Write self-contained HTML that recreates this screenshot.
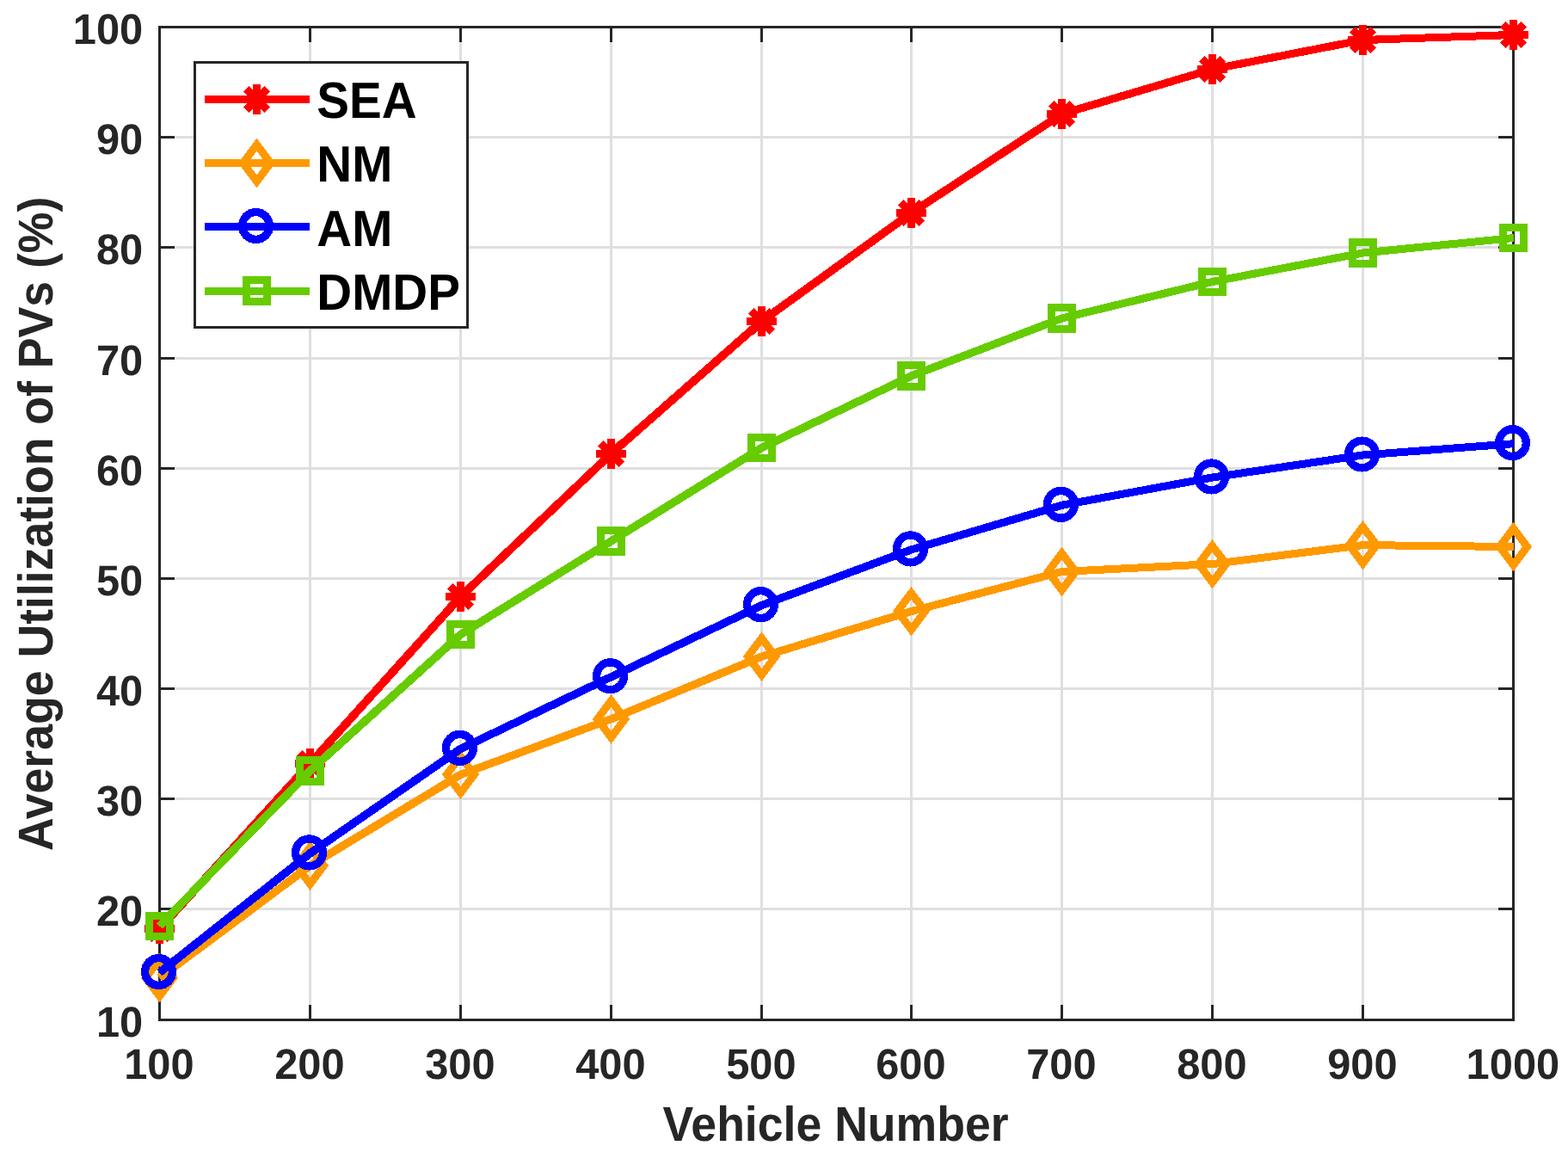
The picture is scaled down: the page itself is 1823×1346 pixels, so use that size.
<!DOCTYPE html>
<html lang="en">
<head>
<meta charset="utf-8">
<title>Average Utilization of PVs vs Vehicle Number</title>
<style>
html,body{margin:0;padding:0;background:#fff;}
body{width:1823px;height:1346px;overflow:hidden;}
svg{display:block;}
text{font-family:"Liberation Sans",sans-serif;font-weight:bold;text-rendering:geometricPrecision;}
.tick{font-size:48.8px;fill:#262626;}
.lab{font-size:53.6px;fill:#262626;}
.leg{font-size:56.6px;fill:#000;}
</style>
</head>
<body>
<svg width="1823" height="1346" viewBox="0 0 1823 1346">
<rect x="0" y="0" width="1823" height="1346" fill="#fff"/>
<path d="M360.5 31.5V1185.5M535.5 31.5V1185.5M710.5 31.5V1185.5M885.5 31.5V1185.5M1059.5 31.5V1185.5M1234.5 31.5V1185.5M1409.5 31.5V1185.5M1584.5 31.5V1185.5M185.5 1056.5H1759.5M185.5 928.5H1759.5M185.5 800.5H1759.5M185.5 672.5H1759.5M185.5 544.5H1759.5M185.5 416.5H1759.5M185.5 287.5H1759.5M185.5 159.5H1759.5" stroke="#dfdfdf" stroke-width="3" fill="none"/>
<path d="M360.5 1185.5v-17.5M360.5 31.5v17.5M535.5 1185.5v-17.5M535.5 31.5v17.5M710.5 1185.5v-17.5M710.5 31.5v17.5M885.5 1185.5v-17.5M885.5 31.5v17.5M1059.5 1185.5v-17.5M1059.5 31.5v17.5M1234.5 1185.5v-17.5M1234.5 31.5v17.5M1409.5 1185.5v-17.5M1409.5 31.5v17.5M1584.5 1185.5v-17.5M1584.5 31.5v17.5M185.5 1056.5h17.5M1759.5 1056.5h-17.5M185.5 928.5h17.5M1759.5 928.5h-17.5M185.5 800.5h17.5M1759.5 800.5h-17.5M185.5 672.5h17.5M1759.5 672.5h-17.5M185.5 544.5h17.5M1759.5 544.5h-17.5M185.5 416.5h17.5M1759.5 416.5h-17.5M185.5 287.5h17.5M1759.5 287.5h-17.5M185.5 159.5h17.5M1759.5 159.5h-17.5" stroke="#262626" stroke-width="3" fill="none"/>
<rect x="185.5" y="31.5" width="1574" height="1154" stroke="#262626" stroke-width="3" fill="none"/>
<text class="tick" transform="translate(184.9 1254) scale(1 1.02)" text-anchor="middle">100</text>
<text class="tick" transform="translate(359.9 1254) scale(1 1.02)" text-anchor="middle">200</text>
<text class="tick" transform="translate(534.9 1254) scale(1 1.02)" text-anchor="middle">300</text>
<text class="tick" transform="translate(709.9 1254) scale(1 1.02)" text-anchor="middle">400</text>
<text class="tick" transform="translate(884.9 1254) scale(1 1.02)" text-anchor="middle">500</text>
<text class="tick" transform="translate(1058.9 1254) scale(1 1.02)" text-anchor="middle">600</text>
<text class="tick" transform="translate(1233.9 1254) scale(1 1.02)" text-anchor="middle">700</text>
<text class="tick" transform="translate(1408.9 1254) scale(1 1.02)" text-anchor="middle">800</text>
<text class="tick" transform="translate(1583.9 1254) scale(1 1.02)" text-anchor="middle">900</text>
<text class="tick" transform="translate(1758.9 1254) scale(1 1.02)" text-anchor="middle">1000</text>
<text class="tick" transform="translate(166.2 1205) scale(1 1.02)" text-anchor="end">10</text>
<text class="tick" transform="translate(166.2 1076) scale(1 1.02)" text-anchor="end">20</text>
<text class="tick" transform="translate(166.2 948) scale(1 1.02)" text-anchor="end">30</text>
<text class="tick" transform="translate(166.2 820) scale(1 1.02)" text-anchor="end">40</text>
<text class="tick" transform="translate(166.2 692) scale(1 1.02)" text-anchor="end">50</text>
<text class="tick" transform="translate(166.2 564) scale(1 1.02)" text-anchor="end">60</text>
<text class="tick" transform="translate(166.2 436) scale(1 1.02)" text-anchor="end">70</text>
<text class="tick" transform="translate(166.2 307) scale(1 1.02)" text-anchor="end">80</text>
<text class="tick" transform="translate(166.2 179) scale(1 1.02)" text-anchor="end">90</text>
<text class="tick" transform="translate(166.2 51) scale(1 1.02)" text-anchor="end">100</text>
<text class="lab" transform="translate(971.6 1326) scale(1 1.06)" text-anchor="middle">Vehicle Number</text>
<text class="lab" transform="translate(61 608.8) rotate(-90) scale(1 1.06)" text-anchor="middle">Average Utilization of PVs (%)</text>
<g shape-rendering="crispEdges">
<polyline points="185.5,1079.5 360.5,887.5 535.5,693.5 710.5,527.4 885.5,373.5 1059.5,247.5 1234.5,132.5 1409.5,80.5 1584.5,46.5 1760,40.5" stroke="#ff0000" stroke-width="9" stroke-linejoin="round" fill="none"/>
<line x1="185.5" y1="1079.5" x2="360.5" y2="887.5" stroke="#ff0000" stroke-width="9.59"/>
<line x1="360.5" y1="887.5" x2="535.5" y2="693.5" stroke="#ff0000" stroke-width="9.59"/>
<line x1="535.5" y1="693.5" x2="710.5" y2="527.4" stroke="#ff0000" stroke-width="9.60"/>
<line x1="710.5" y1="527.4" x2="885.5" y2="373.5" stroke="#ff0000" stroke-width="9.59"/>
<line x1="885.5" y1="373.5" x2="1059.5" y2="247.5" stroke="#ff0000" stroke-width="9.54"/>
<line x1="1059.5" y1="247.5" x2="1234.5" y2="132.5" stroke="#ff0000" stroke-width="9.51"/>
<line x1="1234.5" y1="132.5" x2="1409.5" y2="80.5" stroke="#ff0000" stroke-width="9.18"/>
<line x1="1409.5" y1="80.5" x2="1584.5" y2="46.5" stroke="#ff0000" stroke-width="9.08"/>
<path d="M168 1079.5H203M185.5 1062V1097M173.2 1067.2L197.8 1091.8M173.2 1091.8L197.8 1067.2" stroke="#ff0000" stroke-width="9" fill="none"/>
<path d="M343 887.5H378M360.5 870V905M348.2 875.2L372.8 899.8M348.2 899.8L372.8 875.2" stroke="#ff0000" stroke-width="9" fill="none"/>
<path d="M518 693.5H553M535.5 676V711M523.2 681.2L547.8 705.8M523.2 705.8L547.8 681.2" stroke="#ff0000" stroke-width="9" fill="none"/>
<path d="M693 527.4H728M710.5 509.9V544.9M698.2 515.1L722.8 539.7M698.2 539.7L722.8 515.1" stroke="#ff0000" stroke-width="9" fill="none"/>
<path d="M868 373.5H903M885.5 356V391M873.2 361.2L897.8 385.8M873.2 385.8L897.8 361.2" stroke="#ff0000" stroke-width="9" fill="none"/>
<path d="M1042 247.5H1077M1059.5 230V265M1047.2 235.2L1071.8 259.8M1047.2 259.8L1071.8 235.2" stroke="#ff0000" stroke-width="9" fill="none"/>
<path d="M1217 132.5H1252M1234.5 115V150M1222.2 120.2L1246.8 144.8M1222.2 144.8L1246.8 120.2" stroke="#ff0000" stroke-width="9" fill="none"/>
<path d="M1392 80.5H1427M1409.5 63V98M1397.2 68.2L1421.8 92.8M1397.2 92.8L1421.8 68.2" stroke="#ff0000" stroke-width="9" fill="none"/>
<path d="M1567 46.5H1602M1584.5 29V64M1572.2 34.2L1596.8 58.8M1572.2 58.8L1596.8 34.2" stroke="#ff0000" stroke-width="9" fill="none"/>
<path d="M1742 40.5H1777M1759.5 23V58M1747.2 28.2L1771.8 52.8M1747.2 52.8L1771.8 28.2" stroke="#ff0000" stroke-width="9" fill="none"/>
</g>
<g shape-rendering="crispEdges">
<polyline points="185.5,1136.6 360.5,1006.2 535.5,900.3 710.5,835.8 885.5,763.2 1059.5,710.6 1234.5,664.5 1409.5,655.6 1584.5,633.6 1760,635.5" stroke="#ff9900" stroke-width="9" stroke-linejoin="round" fill="none"/>
<line x1="185.5" y1="1136.6" x2="360.5" y2="1006.2" stroke="#ff9900" stroke-width="9.55"/>
<line x1="360.5" y1="1006.2" x2="535.5" y2="900.3" stroke="#ff9900" stroke-width="9.47"/>
<line x1="535.5" y1="900.3" x2="710.5" y2="835.8" stroke="#ff9900" stroke-width="9.25"/>
<line x1="710.5" y1="835.8" x2="885.5" y2="763.2" stroke="#ff9900" stroke-width="9.30"/>
<line x1="885.5" y1="763.2" x2="1059.5" y2="710.6" stroke="#ff9900" stroke-width="9.18"/>
<line x1="1059.5" y1="710.6" x2="1234.5" y2="664.5" stroke="#ff9900" stroke-width="9.15"/>
<path d="M185.5 1115.35L201.5 1136.6L185.5 1157.85L169.5 1136.6Z" stroke="#ff9900" stroke-width="9" stroke-linejoin="miter" stroke-miterlimit="10" fill="none"/>
<path d="M360.5 984.95L376.5 1006.2L360.5 1027.45L344.5 1006.2Z" stroke="#ff9900" stroke-width="9" stroke-linejoin="miter" stroke-miterlimit="10" fill="none"/>
<path d="M535.5 879.05L551.5 900.3L535.5 921.55L519.5 900.3Z" stroke="#ff9900" stroke-width="9" stroke-linejoin="miter" stroke-miterlimit="10" fill="none"/>
<path d="M710.5 814.55L726.5 835.8L710.5 857.05L694.5 835.8Z" stroke="#ff9900" stroke-width="9" stroke-linejoin="miter" stroke-miterlimit="10" fill="none"/>
<path d="M885.5 741.95L901.5 763.2L885.5 784.45L869.5 763.2Z" stroke="#ff9900" stroke-width="9" stroke-linejoin="miter" stroke-miterlimit="10" fill="none"/>
<path d="M1059.5 689.35L1075.5 710.6L1059.5 731.85L1043.5 710.6Z" stroke="#ff9900" stroke-width="9" stroke-linejoin="miter" stroke-miterlimit="10" fill="none"/>
<path d="M1234.5 643.25L1250.5 664.5L1234.5 685.75L1218.5 664.5Z" stroke="#ff9900" stroke-width="9" stroke-linejoin="miter" stroke-miterlimit="10" fill="none"/>
<path d="M1409.5 634.35L1425.5 655.6L1409.5 676.85L1393.5 655.6Z" stroke="#ff9900" stroke-width="9" stroke-linejoin="miter" stroke-miterlimit="10" fill="none"/>
<path d="M1584.5 612.35L1600.5 633.6L1584.5 654.85L1568.5 633.6Z" stroke="#ff9900" stroke-width="9" stroke-linejoin="miter" stroke-miterlimit="10" fill="none"/>
<path d="M1759.5 614.25L1775.5 635.5L1759.5 656.75L1743.5 635.5Z" stroke="#ff9900" stroke-width="9" stroke-linejoin="miter" stroke-miterlimit="10" fill="none"/>
</g>
<g shape-rendering="crispEdges">
<polyline points="185.5,1130.5 360.5,991.9 535.5,870.4 710.5,786.8 885.5,703.6 1059.5,638.9 1234.5,587.3 1409.5,555 1584.5,529 1760,515.7" stroke="#0000ff" stroke-width="9" stroke-linejoin="round" fill="none"/>
<line x1="185.5" y1="1130.5" x2="360.5" y2="991.9" stroke="#0000ff" stroke-width="9.57"/>
<line x1="360.5" y1="991.9" x2="535.5" y2="870.4" stroke="#0000ff" stroke-width="9.53"/>
<line x1="535.5" y1="870.4" x2="710.5" y2="786.8" stroke="#0000ff" stroke-width="9.36"/>
<line x1="710.5" y1="786.8" x2="885.5" y2="703.6" stroke="#0000ff" stroke-width="9.36"/>
<line x1="885.5" y1="703.6" x2="1059.5" y2="638.9" stroke="#0000ff" stroke-width="9.26"/>
<line x1="1059.5" y1="638.9" x2="1234.5" y2="587.3" stroke="#0000ff" stroke-width="9.18"/>
<line x1="1234.5" y1="587.3" x2="1409.5" y2="555" stroke="#0000ff" stroke-width="9.08"/>
<line x1="1409.5" y1="555" x2="1584.5" y2="529" stroke="#0000ff" stroke-width="9.05"/>
<circle cx="184.5" cy="1129.5" r="15.9" stroke="#0000ff" stroke-width="9.4" fill="none"/>
<circle cx="359.5" cy="990.9" r="15.9" stroke="#0000ff" stroke-width="9.4" fill="none"/>
<circle cx="534.5" cy="869.4" r="15.9" stroke="#0000ff" stroke-width="9.4" fill="none"/>
<circle cx="709.5" cy="785.8" r="15.9" stroke="#0000ff" stroke-width="9.4" fill="none"/>
<circle cx="884.5" cy="702.6" r="15.9" stroke="#0000ff" stroke-width="9.4" fill="none"/>
<circle cx="1058.5" cy="637.9" r="15.9" stroke="#0000ff" stroke-width="9.4" fill="none"/>
<circle cx="1233.5" cy="586.3" r="15.9" stroke="#0000ff" stroke-width="9.4" fill="none"/>
<circle cx="1408.5" cy="554" r="15.9" stroke="#0000ff" stroke-width="9.4" fill="none"/>
<circle cx="1583.5" cy="528" r="15.9" stroke="#0000ff" stroke-width="9.4" fill="none"/>
<circle cx="1758.5" cy="514.7" r="15.9" stroke="#0000ff" stroke-width="9.4" fill="none"/>
</g>
<g shape-rendering="crispEdges">
<polyline points="185.5,1076.5 360.5,896 535.5,737.5 710.5,629 885.5,520.5 1059.5,437 1234.5,370 1409.5,327.5 1584.5,294 1760,276.5" stroke="#66cc00" stroke-width="9" stroke-linejoin="round" fill="none"/>
<line x1="185.5" y1="1076.5" x2="360.5" y2="896" stroke="#66cc00" stroke-width="9.60"/>
<line x1="360.5" y1="896" x2="535.5" y2="737.5" stroke="#66cc00" stroke-width="9.59"/>
<line x1="535.5" y1="737.5" x2="710.5" y2="629" stroke="#66cc00" stroke-width="9.48"/>
<line x1="710.5" y1="629" x2="885.5" y2="520.5" stroke="#66cc00" stroke-width="9.48"/>
<line x1="885.5" y1="520.5" x2="1059.5" y2="437" stroke="#66cc00" stroke-width="9.37"/>
<line x1="1059.5" y1="437" x2="1234.5" y2="370" stroke="#66cc00" stroke-width="9.27"/>
<line x1="1234.5" y1="370" x2="1409.5" y2="327.5" stroke="#66cc00" stroke-width="9.13"/>
<line x1="1409.5" y1="327.5" x2="1584.5" y2="294" stroke="#66cc00" stroke-width="9.08"/>
<rect x="173.3" y="1064.3" width="24.4" height="24.4" stroke="#66cc00" stroke-width="9.2" fill="none"/>
<rect x="348.3" y="883.8" width="24.4" height="24.4" stroke="#66cc00" stroke-width="9.2" fill="none"/>
<rect x="523.3" y="725.3" width="24.4" height="24.4" stroke="#66cc00" stroke-width="9.2" fill="none"/>
<rect x="698.3" y="616.8" width="24.4" height="24.4" stroke="#66cc00" stroke-width="9.2" fill="none"/>
<rect x="873.3" y="508.3" width="24.4" height="24.4" stroke="#66cc00" stroke-width="9.2" fill="none"/>
<rect x="1047.3" y="424.8" width="24.4" height="24.4" stroke="#66cc00" stroke-width="9.2" fill="none"/>
<rect x="1222.3" y="357.8" width="24.4" height="24.4" stroke="#66cc00" stroke-width="9.2" fill="none"/>
<rect x="1397.3" y="315.3" width="24.4" height="24.4" stroke="#66cc00" stroke-width="9.2" fill="none"/>
<rect x="1572.3" y="281.8" width="24.4" height="24.4" stroke="#66cc00" stroke-width="9.2" fill="none"/>
<rect x="1747.3" y="264.3" width="24.4" height="24.4" stroke="#66cc00" stroke-width="9.2" fill="none"/>
</g>
<rect x="226.5" y="72.5" width="317" height="308" fill="#fff" stroke="#262626" stroke-width="3"/>
<g shape-rendering="crispEdges"><path d="M238 115.5H360" stroke="#ff0000" stroke-width="9" fill="none"/>
<path d="M281 115.5H316M298.5 98V133M286.2 103.2L310.8 127.8M286.2 127.8L310.8 103.2" stroke="#ff0000" stroke-width="9" fill="none"/></g>
<text class="leg" transform="translate(368.3 137) scale(1 1.05)">SEA</text>
<g shape-rendering="crispEdges"><path d="M238 189.5H360" stroke="#ff9900" stroke-width="9" fill="none"/>
<path d="M298.5 168.25L314.5 189.5L298.5 210.75L282.5 189.5Z" stroke="#ff9900" stroke-width="9" stroke-linejoin="miter" stroke-miterlimit="10" fill="none"/></g>
<text class="leg" transform="translate(368.3 211) scale(1 1.05)">NM</text>
<g shape-rendering="crispEdges"><path d="M238 263.5H360" stroke="#0000ff" stroke-width="9" fill="none"/>
<circle cx="297.5" cy="262.5" r="15.9" stroke="#0000ff" stroke-width="9.4" fill="none"/></g>
<text class="leg" transform="translate(368.3 286) scale(1 1.05)">AM</text>
<g shape-rendering="crispEdges"><path d="M238 338.5H360" stroke="#66cc00" stroke-width="9" fill="none"/>
<rect x="286.3" y="325.8" width="24.4" height="24.4" stroke="#66cc00" stroke-width="9.2" fill="none"/></g>
<text class="leg" transform="translate(368.3 360) scale(1 1.05)">DMDP</text>
</svg>
</body>
</html>
